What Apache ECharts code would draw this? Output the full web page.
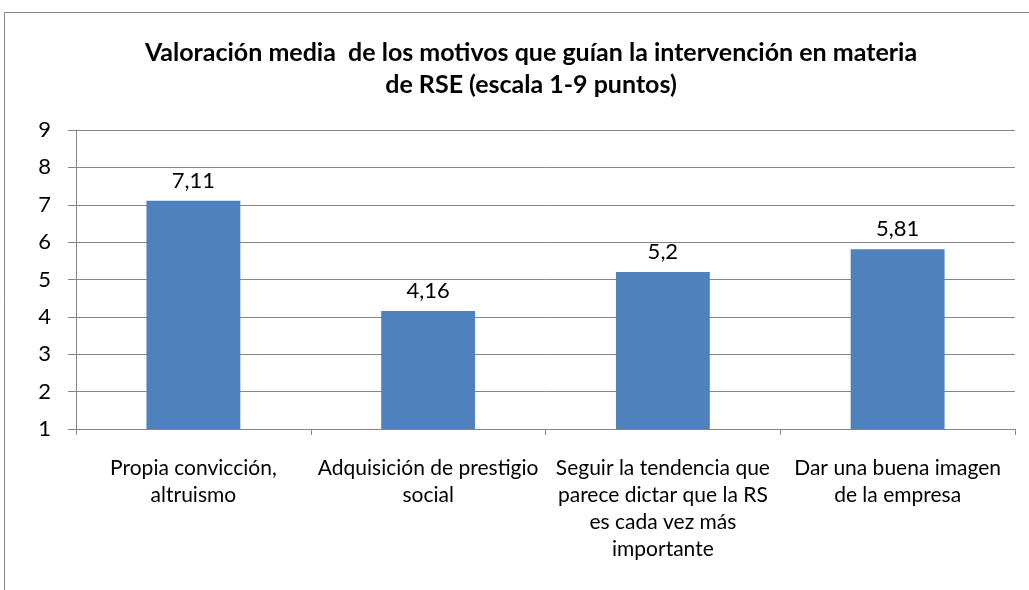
<!DOCTYPE html>
<html>
<head>
<meta charset="utf-8">
<script src="https://cdn.jsdelivr.net/npm/echarts@6/dist/echarts.min.js"></script>
<style>
  html, body { margin: 0; padding: 0; background: #fff; }
  #chart { width: 1029px; height: 590px; }
</style>
</head>
<body>
<div id="chart"></div>
<script>
const titleText = "Valoración media  de los motivos que guían la intervención en materia\nde RSE (escala 1-9 puntos)";
const categories = [
  "Propia convicción,\naltruismo",
  "Adquisición de prestigio\nsocial",
  "Seguir la tendencia que\nparece dictar que la RS\nes cada vez más\nimportante",
  "Dar una buena imagen\nde la empresa"
];
const values = [7.11, 4.16, 5.2, 5.81];
const yMin = 1;
const yMax = 9;

const fontFamily = "Lato, 'Open Sans', sans-serif";
const chart = echarts.init(document.getElementById("chart"));

chart.setOption({
  animation: false,
  backgroundColor: "#fff",
  title: {
    text: titleText,
    left: 526,
    top: 32,
    textAlign: "center",
    textStyle: {
      fontFamily,
      fontSize: 25,
      fontWeight: "bold",
      color: "#000",
      lineHeight: 32
    }
  },
  graphic: [{
    type: "rect",
    shape: { x: 4.5, y: 12.5, width: 1040, height: 600 },
    style: { fill: null, stroke: "#868686", lineWidth: 1 },
    silent: true
  }],
  grid: { left: 76, right: 14, top: 130, bottom: 161, containLabel: false },
  xAxis: {
    type: "category",
    data: categories,
    boundaryGap: true,
    axisLine: { lineStyle: { color: "#868686" } },
    axisTick: { show: true, alignWithLabel: false, length: 6, lineStyle: { color: "#868686" } },
    axisLabel: {
      interval: 0,
      margin: 26,
      fontFamily,
      fontSize: 21,
      lineHeight: 27,
      color: "#000"
    }
  },
  yAxis: {
    type: "value",
    min: yMin,
    max: yMax,
    interval: 1,
    axisLine: { show: true, lineStyle: { color: "#868686" } },
    axisTick: { show: true, inside: false, length: 8, lineStyle: { color: "#868686" } },
    splitLine: { lineStyle: { color: "#868686", width: 1 } },
    axisLabel: {
      margin: 25,
      fontFamily,
      fontSize: 22,
      color: "#000"
    }
  },
  series: [{
    type: "bar",
    data: values,
    barWidth: "40%",
    itemStyle: { color: "#4F81BD" },
    label: {
      show: true,
      position: "top",
      distance: 9,
      fontFamily,
      fontSize: 22,
      color: "#000",
      formatter: p => String(p.value).replace(".", ",")
    }
  }]
});
</script>
</body>
</html>
